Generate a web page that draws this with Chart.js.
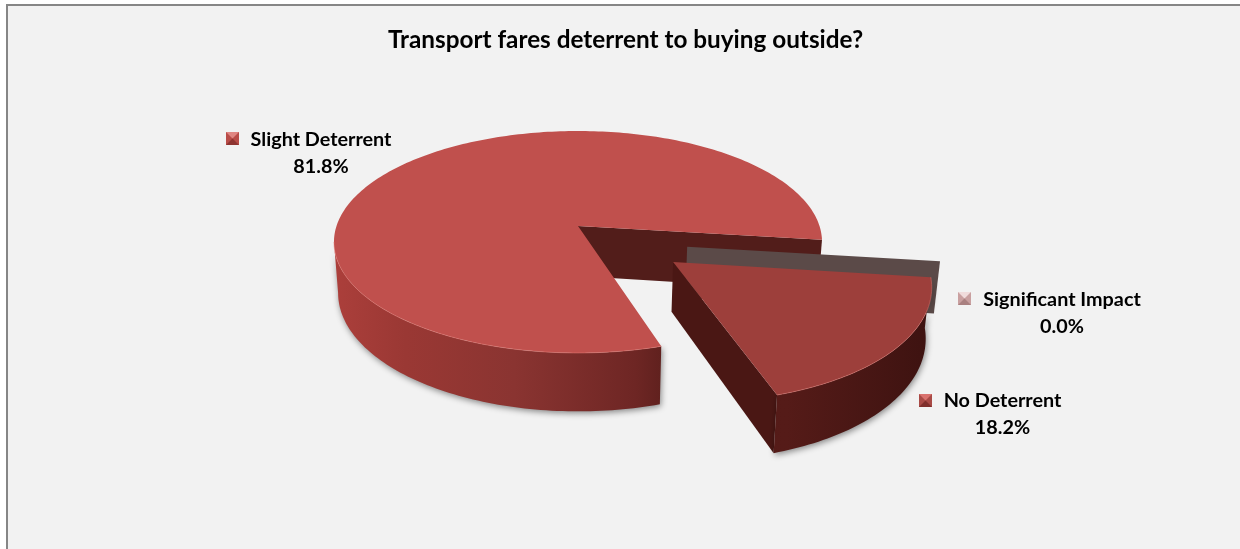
<!DOCTYPE html>
<html>
<head>
<meta charset="utf-8">
<title>Transport fares</title>
<script src="https://cdn.jsdelivr.net/npm/chart.js@4"></script>
<style>
    html, body { margin: 0; padding: 0; background: #fff; overflow: hidden; }
    #wrap { width: 1240px; height: 549px; }
</style>
</head>
<body>
<div id="wrap"><canvas id="pie"></canvas></div>
<script>
const categories = ['Slight Deterrent', 'Significant Impact', 'No Deterrent'];
const shares = [81.8, 0, 18.2];
const chartTitle = 'Transport fares deterrent to buying outside?';

const topColors = ['#C0504D', '#5B4A48', '#9D3F3B'];
const cutColors = ['#521D1A', '#5B4A48', '#4A1714'];
const labelFont = 'bold 19.8px Lato';

// how far each slice is pulled out of the pie, in radii
const sliceShift = [[0, 0], [0.44, 0.185], [0.376, 0.316]];
const sliceDepth = [50, 50, 47.5];

// callout spots: marker corner and centre of the text
const callouts = [
    { mx: 226, my: 132, tx: 321, ty: 140, bevel: ['#E08682', '#B94C48', '#8E3431'] },
    { mx: 958, my: 292, tx: 1062, ty: 300, bevel: ['#F0DCDC', '#C9A0A0', '#A98080'] },
    { mx: 919, my: 394, tx: 1002.5, ty: 401, bevel: ['#D9726E', '#A94A46', '#7F2F2C'] }
];

// flat circle -> screen, with a little perspective towards the viewer
const view = { cx: 578, cy: 226, squash: 0.45, k: 0.144, shrink: 0.017 };

function project(u, v, z, r) {
    const d = 1 - view.k * v;
    return {
        x: view.cx + r * u * (1 - (z ? view.shrink : 0)) / d,
        y: view.cy + (r * view.squash * v + z) / d
    };
}

function arcPath(ctx, a0, a1, shift, z, r, first) {
    const steps = Math.max(2, Math.ceil(Math.abs(a1 - a0) / 0.02));
    for (let i = 0; i <= steps; i++) {
        const a = a0 + (a1 - a0) * i / steps;
        const p = project(Math.cos(a) + shift[0], Math.sin(a) + shift[1], z, r);
        if (i === 0 && first) ctx.moveTo(p.x, p.y);
        else ctx.lineTo(p.x, p.y);
    }
}

// part of the rim that faces the viewer, allowing for full turns
function frontRange(start, end) {
    const edge = Math.PI - Math.asin(view.k);
    for (const turn of [0, Math.PI * 2]) {
        const lo = Math.max(start, turn);
        const hi = Math.min(end, edge + turn);
        if (hi > lo) return [lo, hi];
    }
    return null;
}

function rimFill(ctx, range) {
    const left = view.cx - 245, right = view.cx + 360;
    const g = ctx.createLinearGradient(left, 0, right, 0);
    if (range[0] < Math.PI * 2) {
        g.addColorStop(0, '#AC3F3B');
        g.addColorStop(0.12, '#9A3834');
        g.addColorStop(0.3, '#8A3431');
        g.addColorStop(0.5, '#6E2624');
        g.addColorStop(0.55, '#5E201D');
        g.addColorStop(1, '#5E201D');
    } else {
        g.addColorStop(0, '#4A1714');
        g.addColorStop(0.75, '#551B18');
        g.addColorStop(1, '#3C1210');
    }
    return g;
}

function drawSlice(ctx, arc, index) {
    const r = arc.outerRadius;
    const shift = sliceShift[index];
    const depth = sliceDepth[index];
    const a0 = arc.startAngle, a1 = arc.endAngle;

    // cut face along the closing edge
    const inner = project(shift[0], shift[1], 0, r);
    const innerLow = project(shift[0], shift[1], depth, r);
    const outer = project(Math.cos(a1) + shift[0], Math.sin(a1) + shift[1], 0, r);
    const outerLow = project(Math.cos(a1) + shift[0], Math.sin(a1) + shift[1], depth, r);
    ctx.fillStyle = cutColors[index];
    ctx.beginPath();
    ctx.moveTo(inner.x, inner.y);
    ctx.lineTo(outer.x, outer.y);
    ctx.lineTo(outerLow.x, outerLow.y);
    ctx.lineTo(innerLow.x, innerLow.y);
    ctx.closePath();
    ctx.fill();

    if (a1 === a0) return;

    // rim, with a soft shadow on the floor
    const range = frontRange(a0, a1);
    if (range) {
        ctx.save();
        ctx.shadowColor = 'rgba(0,0,0,0.45)';
        ctx.shadowBlur = 6;
        ctx.shadowOffsetX = 1;
        ctx.shadowOffsetY = 2;
        ctx.fillStyle = rimFill(ctx, range);
        ctx.beginPath();
        arcPath(ctx, range[0], range[1], shift, 0, r, true);
        arcPath(ctx, range[1], range[0], shift, depth, r, false);
        ctx.closePath();
        ctx.fill();
        ctx.restore();
    }

    // top face
    ctx.fillStyle = arc.options.backgroundColor;
    ctx.beginPath();
    ctx.moveTo(inner.x, inner.y);
    arcPath(ctx, a0, a1, shift, 0, r, false);
    ctx.closePath();
    ctx.fill();

    // pale highlight where the top meets the rim
    if (range) {
        ctx.strokeStyle = 'rgba(235,130,125,0.45)';
        ctx.lineWidth = 1;
        ctx.beginPath();
        arcPath(ctx, range[0], range[1], shift, 0, r, true);
        ctx.stroke();
    }
}

const pie3d = {
    id: 'pie3d',
    beforeDraw(chart) {
        const ctx = chart.ctx;
        ctx.save();
        ctx.fillStyle = '#F2F2F2';
        ctx.fillRect(7, 5, chart.width - 7, chart.height - 5);
        ctx.fillStyle = '#868686';
        ctx.fillRect(6, 4, chart.width - 6, 2);
        ctx.fillRect(6, 4, 2, chart.height - 4);
        ctx.restore();
    },
    beforeDatasetDraw(chart, args) {
        const ctx = chart.ctx;
        const arcs = args.meta.data;
        ctx.save();
        arcs.forEach((arc, i) => drawSlice(ctx, arc, i));
        ctx.restore();
        return false;
    },
    afterDraw(chart) {
        const ctx = chart.ctx;
        ctx.save();
        ctx.font = labelFont;
        ctx.textAlign = 'center';
        ctx.textBaseline = 'middle';
        callouts.forEach((c, i) => {
            ctx.fillStyle = '#000';
            ctx.fillText(categories[i], c.tx, c.ty);
            ctx.fillText(shares[i].toFixed(1) + '%', c.tx, c.ty + 27);
            drawMarker(ctx, c.mx, c.my, c.bevel);
        });
        ctx.restore();
    }
};

// small bevelled legend key: four triangles meeting in the middle
function drawMarker(ctx, x, y, bevel) {
    const s = 13, c = s / 2;
    ctx.fillStyle = bevel[1];
    ctx.fillRect(x, y, s, s);
    ctx.fillStyle = bevel[0];
    ctx.beginPath();
    ctx.moveTo(x, y);
    ctx.lineTo(x + s, y);
    ctx.lineTo(x + c, y + c);
    ctx.closePath();
    ctx.fill();
    ctx.fillStyle = bevel[2];
    ctx.beginPath();
    ctx.moveTo(x, y + s);
    ctx.lineTo(x + s, y + s);
    ctx.lineTo(x + c, y + c);
    ctx.closePath();
    ctx.fill();
}

new Chart(document.getElementById('pie').getContext('2d'), {
    type: 'pie',
    data: {
        labels: categories,
        datasets: [{
            data: shares,
            backgroundColor: topColors,
            borderWidth: 0,
            radius: 241.5
        }]
    },
    options: {
        responsive: true,
        maintainAspectRatio: false,
        animation: false,
        rotation: 162.7,
        layout: { padding: { left: 11, right: 0, top: 0, bottom: 0 } },
        plugins: {
            legend: { display: false },
            tooltip: { enabled: false },
            title: {
                display: true,
                text: chartTitle,
                color: '#000',
                font: { family: 'Lato', size: 24.3, weight: 'bold' },
                padding: { top: 26, bottom: 10 }
            }
        }
    },
    plugins: [pie3d]
});
</script>
</body>
</html>
